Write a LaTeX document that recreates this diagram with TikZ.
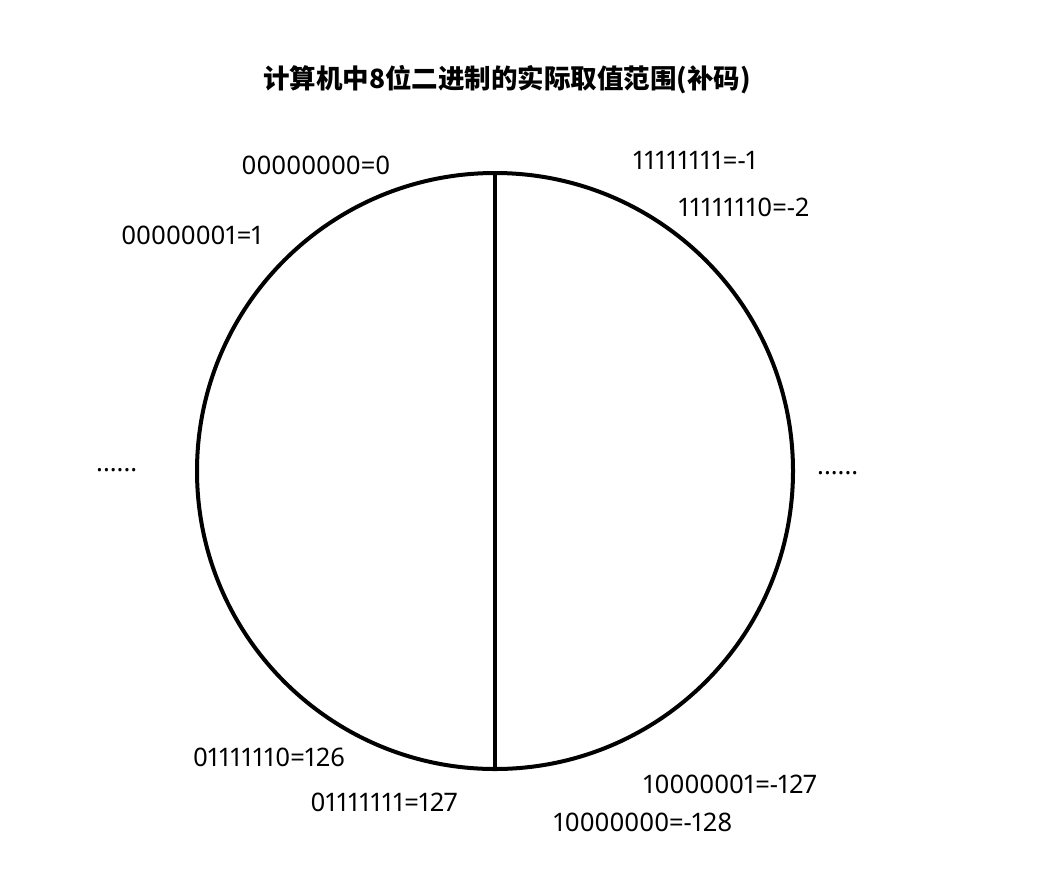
\documentclass[tikz,border=0pt]{standalone}
\usepackage{fontspec}
\setmainfont{Noto Sans}[Numbers=Proportional]
\newfontfamily\cjk{Noto Sans CJK SC}
\usetikzlibrary{positioning}
\tikzstyle{ring}=[circle,draw,line width=4pt,minimum size=596pt,inner sep=0pt,outer sep=0pt]
\tikzstyle{split} = [draw,line width=4pt]
\tikzstyle{code} = [font=\fontsize{25.5}{30}\selectfont,inner sep=0pt]
\tikzstyle{heading} = [font=\cjk\bfseries\fontsize{26.5}{30}\selectfont,inner sep=0pt]

\begin{document}
\begin{tikzpicture}[x=1pt,y=-1pt]
    \useasboundingbox[fill=white] (0,0) rectangle (1038,868);
    % title
    \node[heading] (title) at (507,80) {计算机中8位二进制的实际取值范围(补码)};

    % the circle and the line that splits it
    \node[ring] (wheel) at (495,471) {};
    \path[split] (wheel.north) -- (wheel.south);

    % codes round the circle
    \foreach \pos/\name/\label in {{(316,165)/zero/00000000=0}, {(192,235)/one/00000001=1},
        {(695,160)/mone/11111111=-1}, {(744,207)/mtwo/11111110=-2},
        {(269,757)/pmax/01111110=126}, {(384,802)/pmaxx/01111111=127},
        {(730,784)/nmin/10000001=-127}, {(643,822)/nminn/10000000=-128}}
        \node[code] (\name) at \pos {\label};

    % gaps
    \node[code,anchor=base west] (dotsL) at (96,471) {\bfseries ......};
    \node[code,anchor=base west] (dotsR) at (817,474) {\bfseries ......};
\end{tikzpicture}
\end{document}
